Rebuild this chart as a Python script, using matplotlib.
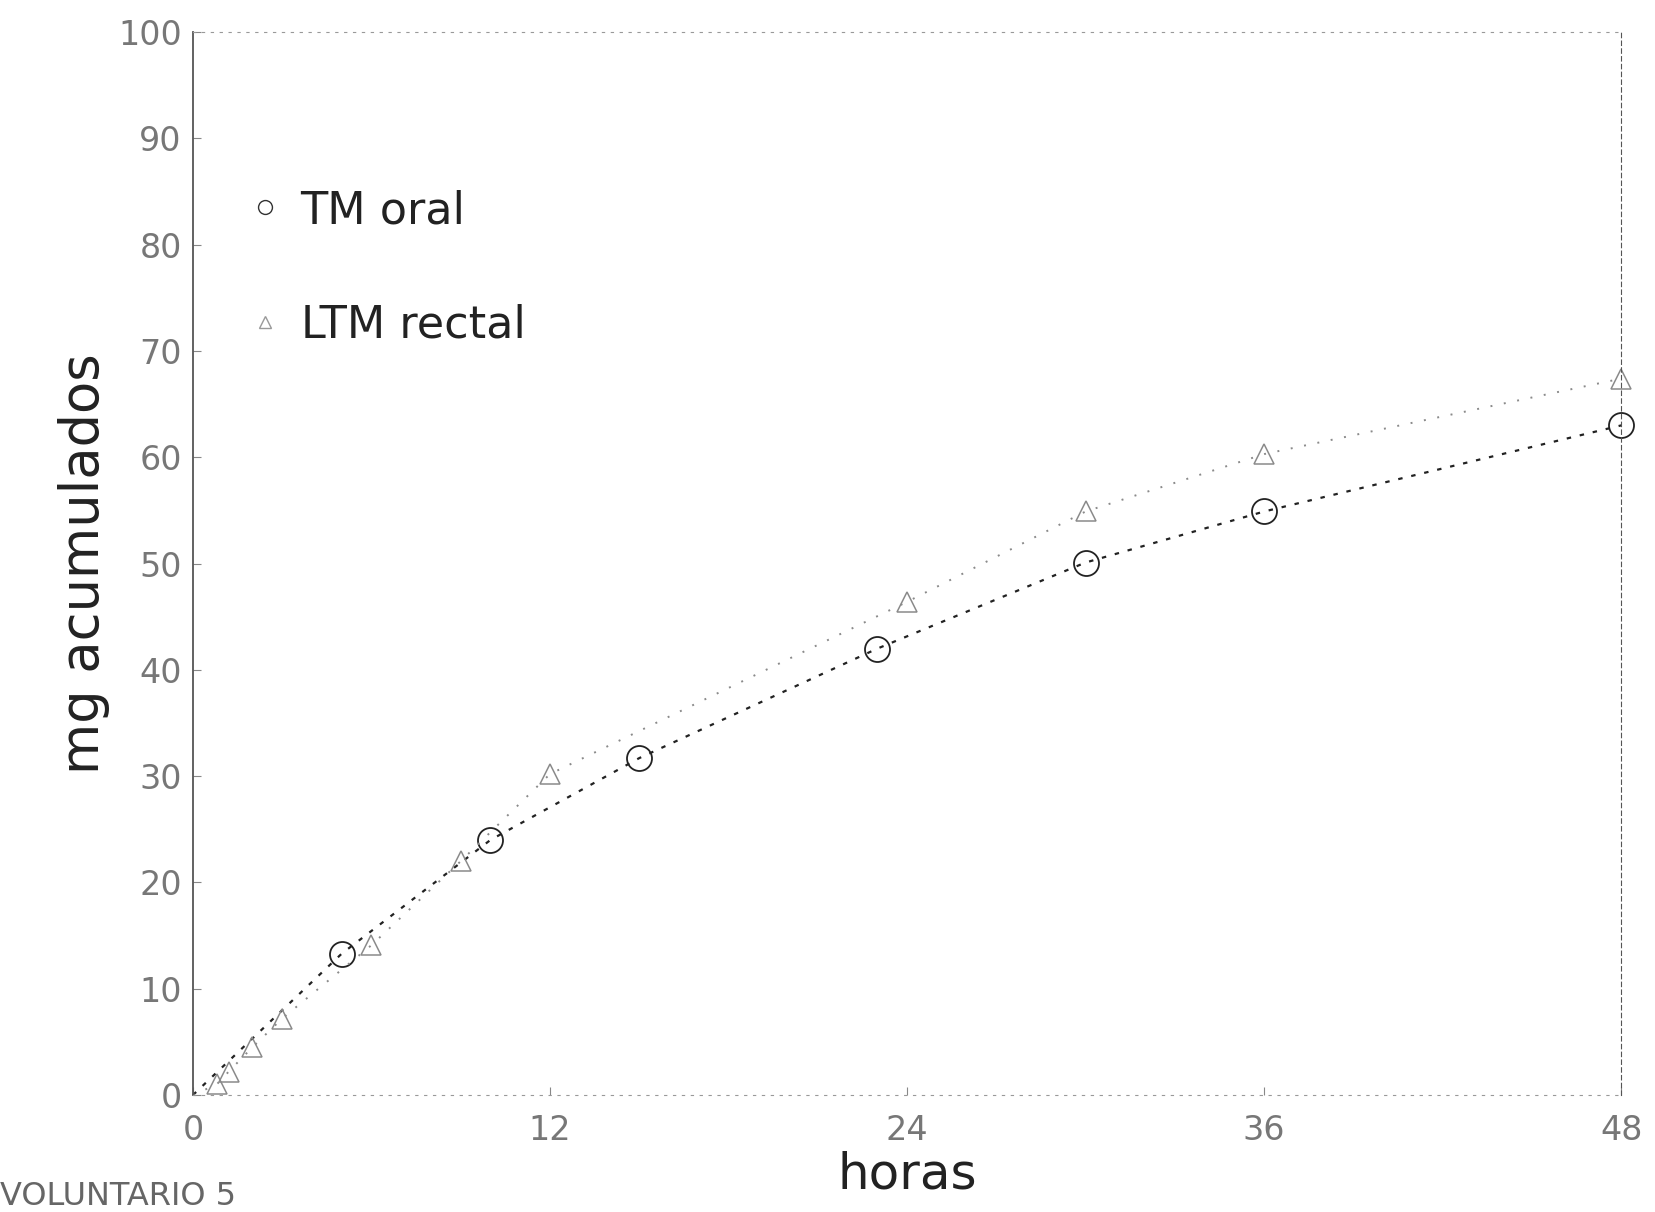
import matplotlib.pyplot as plt
from matplotlib.lines import Line2D

# Datos (horas, mg acumulados)
horas_oral = [0, 5, 10, 15, 23, 30, 36, 48]
mg_oral = [0, 13.3, 24.0, 31.7, 42.0, 50.1, 54.9, 63.0]

horas_rectal = [0, 0.8, 1.2, 2, 3, 6, 9, 12, 24, 30, 36, 48]
mg_rectal = [0, 1.0, 2.2, 4.5, 7.2, 14.1, 22.0, 30.2, 46.4, 54.9, 60.3, 67.4]

xticks = [0, 12, 24, 36, 48]
yticks = list(range(0, 101, 10))

plt.rcParams['font.family'] = ['DejaVu Sans']

fig = plt.figure(figsize=(16.56, 12.12), dpi=100)
ax = fig.add_axes([0.1165, 0.0965, 0.8625, 0.877])

# Curva TM oral
ax.plot(horas_oral, mg_oral, linestyle=(0, (2, 4)), linewidth=1.6, color='#222222',
        marker='o', markersize=18, markerfacecolor='none', markeredgecolor='#222222',
        markeredgewidth=1.3, markevery=list(range(1, len(horas_oral))), clip_on=False)

# Curva LTM rectal
ax.plot(horas_rectal, mg_rectal, linestyle=(0, (1, 6)), linewidth=1.4, color='#8a8a8a',
        marker='^', markersize=15, markerfacecolor='none', markeredgecolor='#8a8a8a',
        markeredgewidth=1.1, markevery=list(range(1, len(horas_rectal))), clip_on=False)

ax.set_xlim(0, 48)
ax.set_ylim(0, 100)
ax.set_xticks(xticks)
ax.set_yticks(yticks)
ax.tick_params(direction='in', length=6, colors='#888888', labelsize=24,
               labelcolor='#777777')
ax.tick_params(axis='x', pad=14)
ax.tick_params(axis='y', pad=8)

for side in ['top', 'bottom']:
    ax.spines[side].set_linestyle((0, (2, 6)))
    ax.spines[side].set_color('#999999')
ax.spines['left'].set_color('#555555')
ax.spines['left'].set_linewidth(1.3)
ax.spines['right'].set_linestyle((0, (4, 3)))
ax.spines['right'].set_color('#555555')

ax.set_xlabel('horas', fontsize=36, color='#222222', labelpad=2)
ax.set_ylabel('mg acumulados', fontsize=38, color='#222222', labelpad=6)

handles = [
    Line2D([], [], marker='o', linestyle='none', markerfacecolor='none',
           markeredgecolor='#333333', markersize=10),
    Line2D([], [], marker='^', linestyle='none', markerfacecolor='none',
           markeredgecolor='#999999', markersize=9),
]
ax.legend(handles, ['TM oral', 'LTM rectal'], loc='upper left',
          bbox_to_anchor=(0.01, 0.89), frameon=False, fontsize=32,
          handlelength=0.8, handletextpad=0.4, labelspacing=1.6,
          labelcolor='#222222')

fig.text(0.0, 0.0, 'VOLUNTARIO 5', fontsize=23, color='#666666',
         ha='left', va='bottom')

fig.savefig('out.png', dpi=100)
